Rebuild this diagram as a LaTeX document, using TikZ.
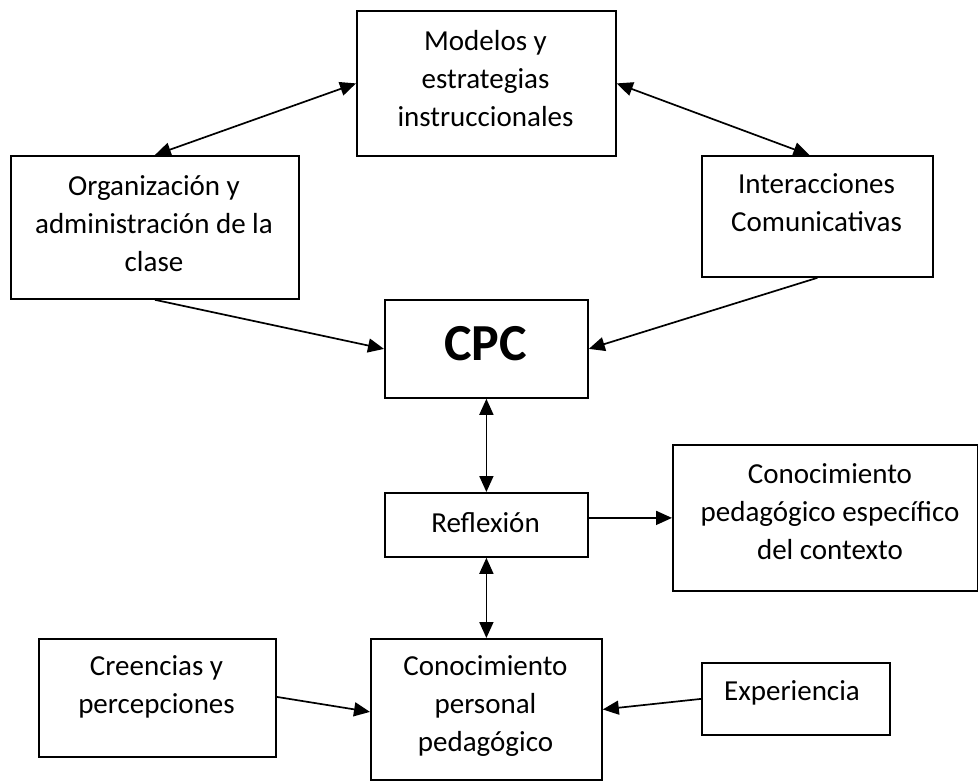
\documentclass[tikz,border=0pt]{standalone}
\usepackage{fontspec}
\setmainfont{Carlito}
\usetikzlibrary{arrows.meta}
\begin{document}
\begin{tikzpicture}[x=1pt,y=-1pt,
  box/.style={draw=black, line width=1.8pt, inner sep=0pt, anchor=north west},
  txt/.style={font=\fontsize{29}{38}\selectfont, align=center, inner sep=0pt, anchor=north},
  tip/.tip={Triangle[length=16pt,width=14pt]},
  link/.style={line width=1.7pt, -tip},
  both/.style={line width=1.7pt, tip-tip}]
\useasboundingbox (0,0) rectangle (978,780);

% boxes (top-left corner, width, height)
\node[box, minimum width=259pt, minimum height=145pt] (mod)   at (356,10)  {};
\node[box, minimum width=288pt, minimum height=143pt] (org)   at (10,155)  {};
\node[box, minimum width=231pt, minimum height=121pt] (inter) at (701,155) {};
\node[box, minimum width=203pt, minimum height=98pt]  (cpc)   at (384,299) {};
\node[box, minimum width=203pt, minimum height=64pt]  (refl)  at (384,492) {};
\node[box, minimum width=305pt, minimum height=146pt] (esp)   at (672,444) {};
\node[box, minimum width=237pt, minimum height=118pt] (cre)   at (38,638)  {};
\node[box, minimum width=231pt, minimum height=141pt] (per)   at (370,638) {};
\node[box, minimum width=188pt, minimum height=72pt]  (exp)   at (701,662) {};

% labels (first baseline minus strut height)
\node[txt] (mod-t)   at (485.5,23.4)  {\strut Modelos y\\estrategias\\instruccionales};
\node[txt] (org-t)   at (154,168.4)   {\strut Organización y\\administración de la\\clase};
\node[txt] (inter-t) at (816.5,166.4) {\strut Interacciones\\Comunicativas};
\node[font=\fontsize{52}{62}\selectfont\bfseries, inner sep=0pt, anchor=base] (cpc-t) at (485.5,360) {CPC};
\node[txt] (refl-t)  at (485.5,505.4) {\strut Reflexión};
\node[txt] (esp-t)   at (830,456.4)   {\strut Conocimiento\\pedagógico específico\\del contexto};
\node[txt] (cre-t)   at (156.5,648.4) {\strut Creencias y\\percepciones};
\node[txt] (per-t)   at (485.5,648.4) {\strut Conocimiento\\personal\\pedagógico};
\node[txt] (exp-t)   at (792,673.4)   {\strut Experiencia};

% connectors
\draw[both] (org.north) -- (mod.west);
\draw[both] (mod.east) -- ([xshift=-8pt]inter.north);
\draw[link] (org.south) -- (cpc.west);
\draw[link] (inter.south) -- (cpc.east);
\draw[both] (cpc.south) -- (refl.north);
\draw[both] (refl.south) -- (per.north);
\draw[link] ([yshift=7pt]refl.east) -- ([yshift=7pt]refl.east -| esp.west);
\draw[link] ([yshift=1pt]cre.east) -- ([yshift=-2.5pt]per.west);
\draw[link] (exp.west) -- (per.east);
\end{tikzpicture}
\end{document}
